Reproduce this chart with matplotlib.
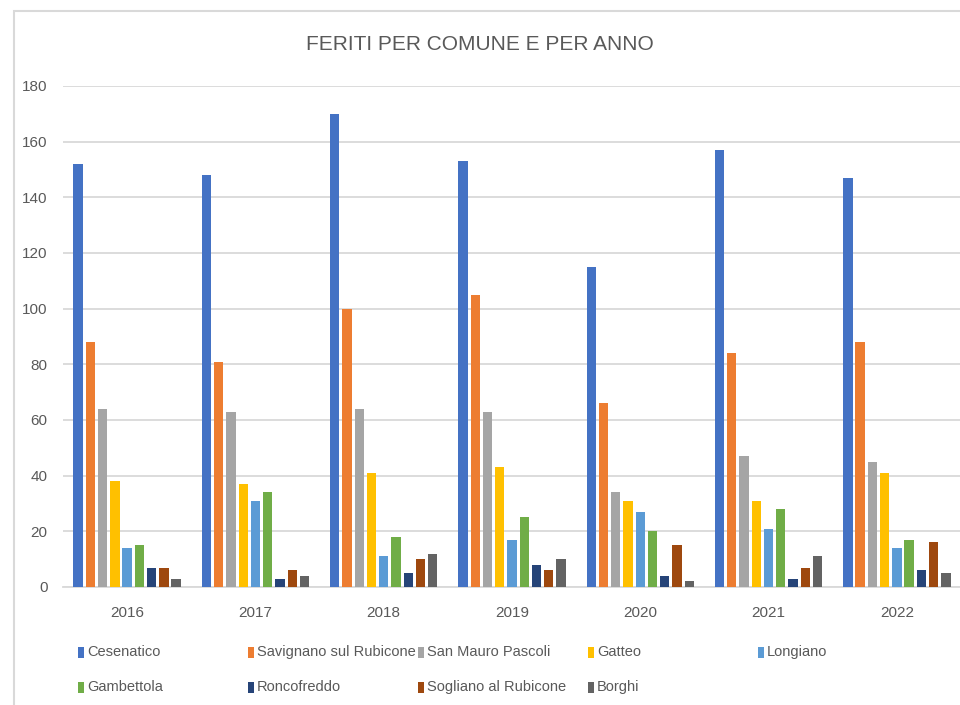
import numpy as np
import matplotlib
matplotlib.use("Agg")
import matplotlib.pyplot as plt
from matplotlib.patches import Rectangle

anni = ["2016", "2017", "2018", "2019", "2020", "2021", "2022"]

comuni = ["Cesenatico", "Savignano sul Rubicone", "San Mauro Pascoli", "Gatteo",
          "Longiano", "Gambettola", "Roncofreddo", "Sogliano al Rubicone", "Borghi"]

cesenatico = [152, 148, 170, 153, 115, 157, 147]
savignano = [88, 81, 100, 105, 66, 84, 88]
san_mauro = [64, 63, 64, 63, 34, 47, 45]
gatteo = [38, 37, 41, 43, 31, 31, 41]
longiano = [14, 31, 11, 17, 27, 21, 14]
gambettola = [15, 34, 18, 25, 20, 28, 17]
roncofreddo = [7, 3, 5, 8, 4, 3, 6]
sogliano = [7, 6, 10, 6, 15, 7, 16]
borghi = [3, 4, 12, 10, 2, 11, 5]

serie = [cesenatico, savignano, san_mauro, gatteo, longiano,
         gambettola, roncofreddo, sogliano, borghi]

colori = ["#4472C4", "#ED7D31", "#A5A5A5", "#FFC000", "#5B9BD5",
          "#70AD47", "#264478", "#9E480E", "#636363"]

grigio = "#595959"
plt.rcParams['font.family'] = ['Liberation Sans', 'DejaVu Sans']

fig = plt.figure(figsize=(9.6, 7.05), dpi=100)

# cornice del grafico (esce dal bordo a destra e in basso)
fig.patches.append(Rectangle((14 / 960, -0.1), 2, 1 - 11 / 705 + 0.1,
                             transform=fig.transFigure, fill=False,
                             edgecolor="#d9d9d9", linewidth=1.5, zorder=0))

ax = fig.add_axes([63 / 960, 1 - 587 / 705, 898 / 960, (587 - 86) / 705])

x = np.arange(len(anni))
passo = 0.0955
larghezza = 0.0725
for j, (valori, colore) in enumerate(zip(serie, colori)):
    ax.bar(x + (j - 4) * passo, valori, width=larghezza, color=colore,
           zorder=3, label=comuni[j])

ax.set_xlim(-0.5, len(anni) - 0.5)
ax.set_ylim(0, 180)
ax.set_yticks(range(0, 181, 20))
ax.set_xticks(x)
ax.set_xticklabels(anni)
ax.yaxis.grid(True, color="#d9d9d9", linewidth=1.3, zorder=0)
ax.tick_params(axis="both", length=0, labelsize=11, labelcolor=grigio)
ax.tick_params(axis="y", pad=11)
ax.tick_params(axis="x", pad=14)
for lato in ["top", "right", "left"]:
    ax.spines[lato].set_visible(False)
ax.spines["bottom"].set_color("#d9d9d9")
ax.spines["bottom"].set_linewidth(1.3)

fig.text(0.5, 1 - 45 / 705, "FERITI PER COMUNE E PER ANNO", ha="center",
         va="center", fontsize=15, color=grigio)

# legenda su due righe, colonne a passo fisso
for k, (nome, colore) in enumerate(zip(comuni, colori)):
    col = k % 5
    riga = k // 5
    xm = 78 + col * 170
    ym = 652 + riga * 35
    fig.patches.append(Rectangle((xm / 960, 1 - (ym + 5.5) / 705), 6 / 960, 11 / 705,
                                 transform=fig.transFigure, facecolor=colore,
                                 edgecolor="none"))
    fig.text((xm + 9) / 960, 1 - ym / 705, nome, ha="left", va="center",
             fontsize=10.5, color=grigio)

fig.savefig("out.png", dpi=100)
